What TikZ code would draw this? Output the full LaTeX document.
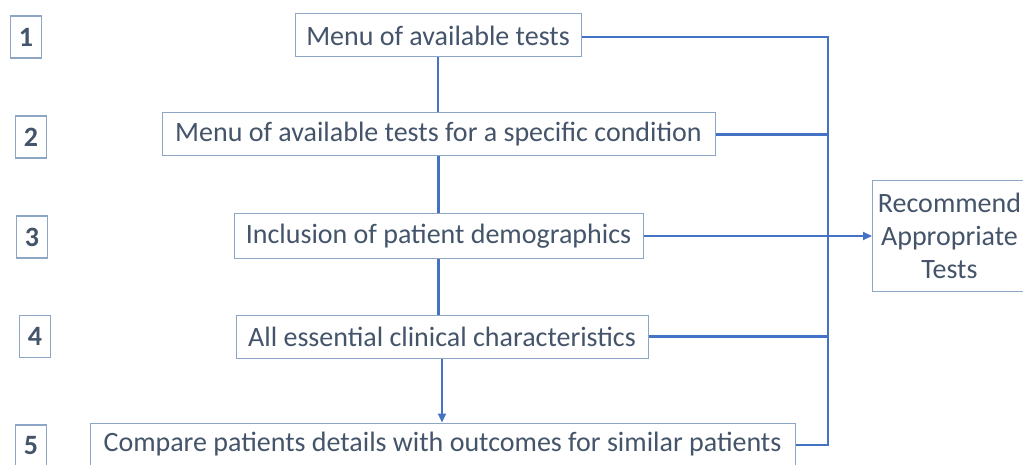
\documentclass[tikz,border=0pt]{standalone}
\usepackage{fontspec}
\setmainfont{Carlito}
\usetikzlibrary{arrows.meta}

\definecolor{textgray}{HTML}{44546A}
\definecolor{boxblue}{HTML}{8EA6C6}
\definecolor{lineblue}{HTML}{4472C4}

\begin{document}
\begin{tikzpicture}[x=1pt, y=-1pt,
  stepnode/.style={shape=rectangle, draw=boxblue, line width=1pt, text=textgray, font=\fontsize{28}{33}\selectfont, minimum height=43pt, inner sep=0pt },
  numnode/.style={shape=rectangle, draw=boxblue, line width=1.2pt, text=textgray, font=\fontsize{28}{33}\selectfont\bfseries, minimum width=31pt, minimum height=42pt, inner sep=0pt },
  link/.style={draw=lineblue, line width=2.4pt, line join=miter },
  tip/.style={-{Triangle[length=9pt, width=8pt]} },
]

%FRAME
\path[use as bounding box, fill=white] (0,0) rectangle (1023,465);
\clip (0,0) rectangle (1023,465);

%%STEP NUMBERS
\node[numnode] (n1) at (26,37) {1};
\node[numnode] (n2) at (31,137) {2};
\node[numnode] (n3) at (32,237) {3};
\node[numnode] (n4) at (35,336.5) {4};
\node[numnode] (n5) at (31,446) {5};

%%STEPS
\node[stepnode, minimum width=286pt] (menu) at (438,35.5) {Menu of available tests};
\node[stepnode, minimum width=553pt] (cond) at (438.5,134.5) {Menu of available tests for a specific condition};
\node[stepnode, minimum width=409pt, minimum height=45pt] (demo) at (438.5,236) {Inclusion of patient demographics};
\node[stepnode, minimum width=412pt] (clin) at (442,336.5) {All essential clinical characteristics};
\node[stepnode, minimum width=705pt] (compare) at (442.5,444.5) {Compare patients details with outcomes for similar patients};

\node[stepnode, align=center, anchor=west, minimum width=154pt, minimum height=111pt] (rec) at (872,236) {Recommend\\Appropriate\\Tests};

%%DOWNWARD CHAIN
\draw[link] (menu.south) -- (menu.south |- cond.north);
\draw[link] (cond.south) -- (cond.south |- demo.north);
\draw[link] (demo.south) -- (demo.south |- clin.north);
\draw[link, line width=1.8pt, tip] (clin.south) -- (clin.south |- compare.north);

%%COLLECTOR ON THE RIGHT
\coordinate (bustop) at (828,37);
\coordinate (busend) at (828,445);
\draw[link] (menu.east |- bustop) -- (bustop) -- (busend) -- (compare.east |- busend);
\draw[link] (cond.east) -- (cond.east -| bustop);
\draw[link] (clin.east) -- (clin.east -| bustop);
\draw[link, line width=1.8pt, tip] (demo.east) -- (rec.west);

\end{tikzpicture}
\end{document}
